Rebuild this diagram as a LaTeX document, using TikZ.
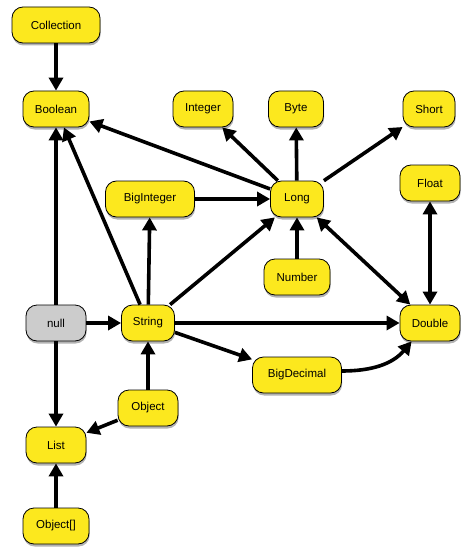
\documentclass[tikz,border=0pt]{standalone}
\usepackage{fontspec}
\setmainfont{Liberation Sans}
\usetikzlibrary{arrows.meta,shadows}
\definecolor{nodeyellow}{RGB}{252,232,30}
\definecolor{nodegray}{RGB}{204,204,204}
\begin{document}
\begin{tikzpicture}[x=1pt,y=-1pt,
  box/.style={draw=black, line width=0.8pt, fill=nodeyellow, rounded corners=11pt,
    minimum height=36pt, inner sep=2pt, font=\fontsize{11.5}{13}\selectfont,
    drop shadow={shadow xshift=0.6pt, shadow yshift=-2.5pt, fill=black, opacity=0.3}},
  graybox/.style={box, fill=nodegray},
  link/.style={line width=3.6pt, -{Triangle[length=13pt,width=14pt]}},
  dlink/.style={line width=3.6pt, {Triangle[length=13pt,width=14pt]}-{Triangle[length=13pt,width=14pt]}}
]
\useasboundingbox (0,0) rectangle (470,559);
\node[box, minimum width=88pt] (coll) at (56,25) {Collection};
\node[box, minimum width=66pt] (bool) at (56,109) {Boolean};
\node[box, minimum width=60pt] (int) at (203,109) {Integer};
\node[box, minimum width=55pt] (byte) at (296,109) {Byte};
\node[box, minimum width=52pt] (short) at (429,109) {Short};
\node[box, minimum width=89pt] (bigint) at (150,199) {BigInteger};
\node[box, minimum width=53pt] (long) at (297,199) {Long};
\node[box, minimum width=60pt] (float) at (430,183) {Float};
\node[box, minimum width=66pt] (num) at (297,277) {Number};
\node[graybox, minimum width=60pt] (null) at (56,323) {null};
\node[box, minimum width=53pt] (str) at (148,323) {String};
\node[box, minimum width=60pt] (dbl) at (430,323) {Double};
\node[box, minimum width=89pt] (bigdec) at (297,375) {BigDecimal};
\node[box, minimum width=60pt] (obj) at (148,408) {Object};
\node[box, minimum width=60pt] (list) at (56,445) {List};
\node[box, minimum width=66pt] (objarr) at (56,526) {Object[]};

\draw[link] (coll) -- (bool);
\draw[link] (null) -- (bool);
\draw[link] (str) -- (bool);
\draw[link] (long) -- (bool);
\draw[link] (long) -- (int);
\draw[link] (long) -- (byte);
\draw[link] (long) -- (short);
\draw[link] (bigint) -- (long);
\draw[link] (str) -- (bigint);
\draw[link] (str) -- (long);
\draw[link] (num) -- (long);
\draw[dlink] (long) -- (dbl);
\draw[dlink] (float) -- (dbl);
\draw[link] (null) -- (str);
\draw[link] (null) -- (list);
\draw[link] (str) -- (dbl);
\draw[link] (str) -- (bigdec);
\coordinate (dblin) at ([xshift=12pt]dbl.south west);
\draw[link] (bigdec.east |- 0,371) to[out=0,in=-130] (dblin);
\draw[link] (obj) -- (str);
\draw[link] (obj) -- (list);
\draw[link] (objarr) -- (list);
\end{tikzpicture}
\end{document}
